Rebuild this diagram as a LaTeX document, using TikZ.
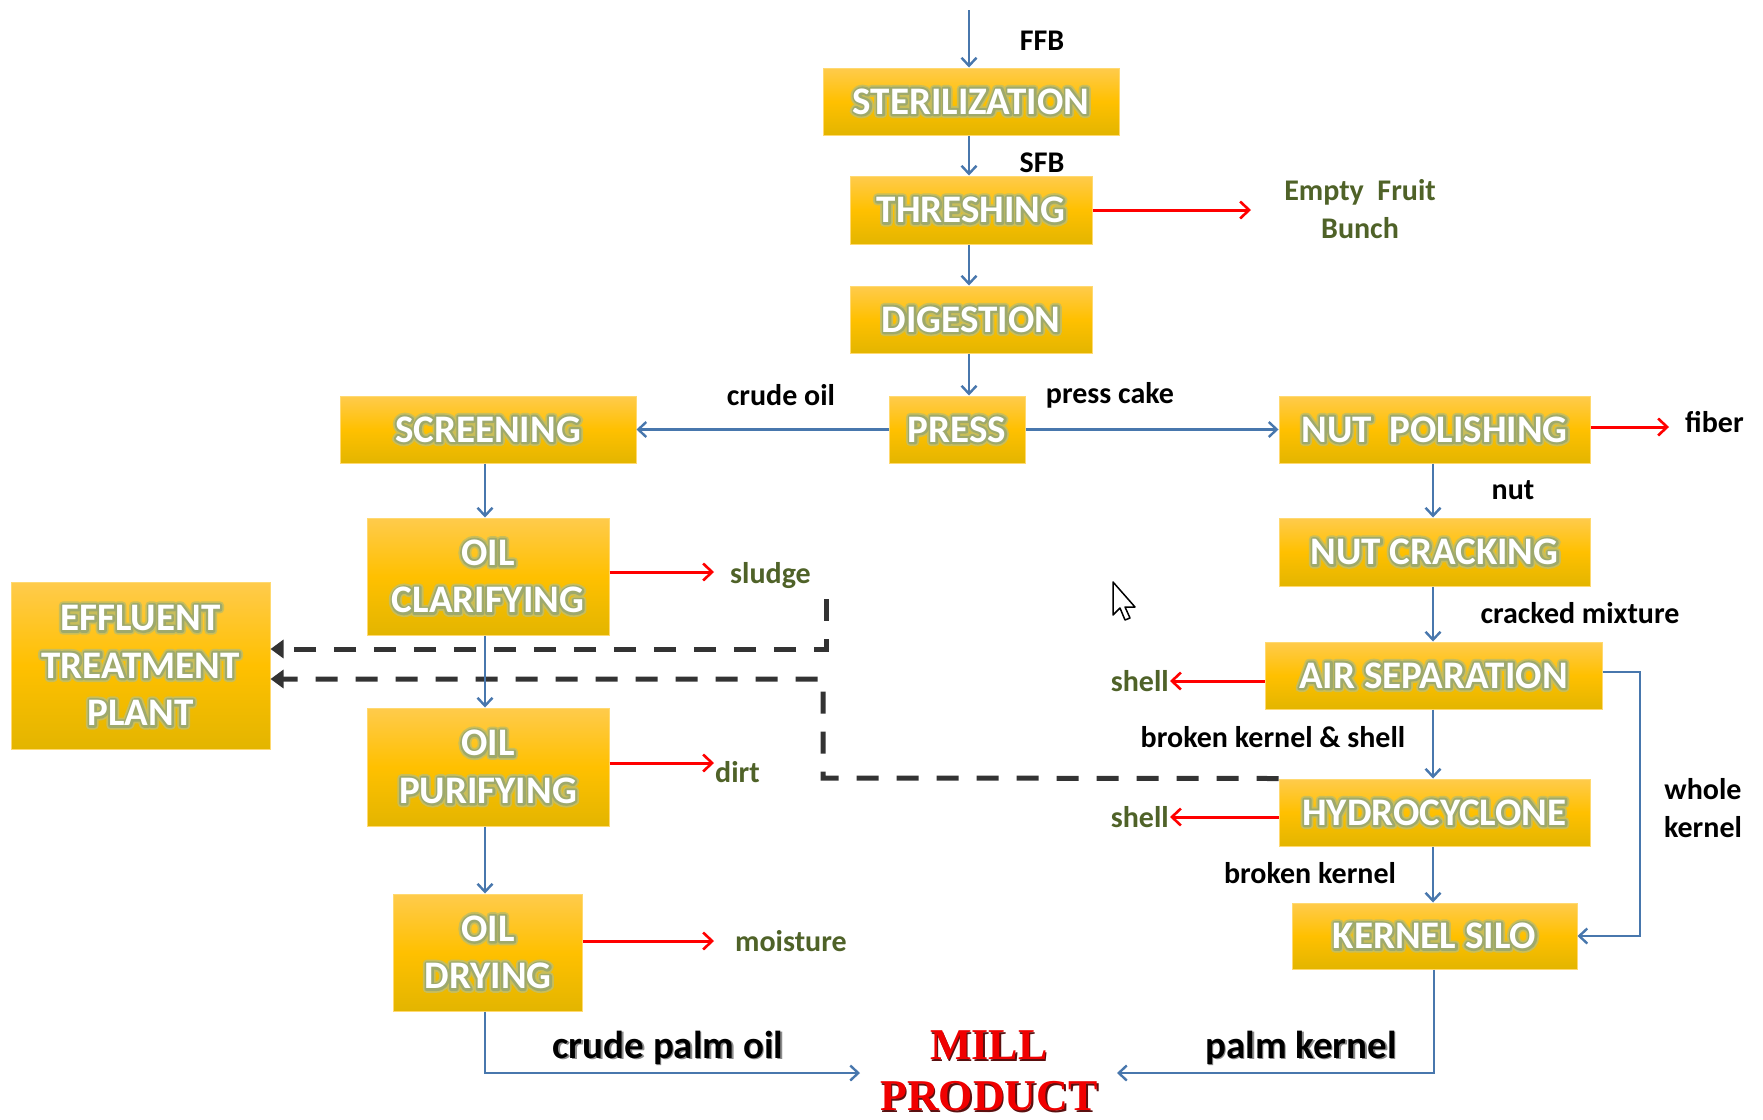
\documentclass[tikz,border=0pt]{standalone}
\usepackage{fontspec}
\setmainfont{Carlito}
\newfontfamily\glowA{Carlito}[UprightFeatures={FakeBold=20},BoldFeatures={FakeBold=20}]
\newfontfamily\glowB{Carlito}[UprightFeatures={FakeBold=11},BoldFeatures={FakeBold=11}]
\newfontfamily\prodfont{Liberation Serif}
\usetikzlibrary{arrows.meta}
\definecolor{boxtop}{HTML}{FFCB4C}
\definecolor{boxmid}{HTML}{FFC000}
\definecolor{boxbot}{HTML}{E3B500}
\definecolor{boxedge}{HTML}{FFD970}
\definecolor{glowin}{HTML}{9EA96C}
\definecolor{glowout}{HTML}{C9BE5A}
\definecolor{flow}{HTML}{4877AD}
\definecolor{waste}{HTML}{FF0000}
\definecolor{wastetxt}{HTML}{4F6228}
\definecolor{dashc}{HTML}{333333}
\definecolor{prodred}{HTML}{F00000}
\definecolor{prodshade}{HTML}{5A1010}
\newcommand\glw[1]{\mbox{\special{pdf:literal direct 1 j 1 J}\rlap{\glowA\textcolor{glowout}{#1}}\rlap{\glowB\textcolor{glowin}{#1}}\textcolor{white}{#1}}}
\newcommand\shd[2]{\mbox{\rlap{\smash{\kern1.6pt\raisebox{-1.6pt}{\textcolor{#1}{#2}}}}#2}}
\begin{document}
\begin{tikzpicture}[x=1pt,y=-1pt,
  box/.style={rectangle, top color=boxtop, bottom color=boxbot, middle color=boxmid,
    draw=boxedge, line width=1pt, inner sep=0pt, align=center,
    font=\fontsize{39}{47.5}\selectfont\bfseries},
  flowarrow/.style={draw=flow, line width=2.6pt, -{Straight Barb[length=8pt,width=15pt,line width=2.4pt]}},
  wastearrow/.style={draw=waste, line width=3pt, -{Straight Barb[length=9pt,width=17pt,line width=2.6pt]}},
  effarrow/.style={draw=dashc, line width=5pt, dash pattern=on 22pt off 18pt, -{Triangle[length=13pt,width=18pt]}},
  lbl/.style={font=\fontsize{30}{38}\selectfont\bfseries, text=black, inner sep=0pt},
  wlbl/.style={lbl, text=wastetxt},
  biglbl/.style={font=\fontsize{39}{46}\selectfont\bfseries, text=black, inner sep=0pt}]
\useasboundingbox (0,0) rectangle (1763,1119);
\fill[white] (0,0) rectangle (1763,1119);

% process boxes
\node[box,minimum width=296pt,minimum height=67pt] (ster) at (971,101.5) {\glw{STERILIZATION}};
\node[box,minimum width=242pt,minimum height=68pt] (thr) at (971,210) {\glw{THRESHING}};
\node[box,minimum width=242pt,minimum height=67pt] (dig) at (971,319.5) {\glw{DIGESTION}};
\node[box,minimum width=136pt,minimum height=67pt] (press) at (957,429.5) {\glw{PRESS}};
\node[box,minimum width=296pt,minimum height=67pt] (scr) at (488,429.5) {\glw{SCREENING}};
\node[box,minimum width=242pt,minimum height=117pt] (clar) at (488,576.5) {\glw{OIL}\\\glw{CLARIFYING}};
\node[box,minimum width=242pt,minimum height=118pt] (pur) at (488,767) {\glw{OIL}\\\glw{PURIFYING}};
\node[box,minimum width=189pt,minimum height=117pt] (dry) at (488,952.5) {\glw{OIL}\\\glw{DRYING}};
\node[box,minimum width=259pt,minimum height=167pt] (etp) at (140.5,665.5) {\glw{EFFLUENT}\\\glw{TREATMENT}\\\glw{PLANT}};
\node[box,minimum width=311pt,minimum height=67pt] (np) at (1434.5,429.5) {\glw{NUT\ \ POLISHING}};
\node[box,minimum width=311pt,minimum height=68pt] (nc) at (1434.5,552) {\glw{NUT CRACKING}};
\node[box,minimum width=337pt,minimum height=67pt] (air) at (1433.5,675.5) {\glw{AIR SEPARATION}};
\node[box,minimum width=311pt,minimum height=67pt] (hyd) at (1434.5,812.5) {\glw{HYDROCYCLONE}};
\node[box,minimum width=285pt,minimum height=66pt] (silo) at (1434.5,936) {\glw{KERNEL SILO}};

% free ends
\coordinate (ffbin) at (969,10);
\coordinate (efbend) at (1251,210);
\coordinate (slend) at (714,572);
\coordinate (dtend) at (714,763);
\coordinate (mend) at (714,941);
\coordinate (fbend) at (1669,427);
\coordinate (sh1end) at (1170,681);
\coordinate (sh2end) at (1170,817);
\coordinate (cpoend) at (860,1073);
\coordinate (pkend) at (1117,1073);
\coordinate (d1a) at (826,599);
\coordinate (d1b) at (826,649);
\coordinate (d2a) at (823,778);
\coordinate (d2b) at (823,679);

% effluent (dashed)
\draw[effarrow] (d1a) -- (d1b) -- (d1b -| etp.east);
\draw[effarrow] (hyd.north west) -- (d2a) -- (d2b) -- (d2b -| etp.east);

% main flow
\draw[flowarrow] (ffbin) -- (ffbin |- ster.north);
\draw[flowarrow] (ster.south -| ffbin) -- (ffbin |- thr.north);
\draw[flowarrow] (thr.south -| ffbin) -- (ffbin |- dig.north);
\draw[flowarrow] (dig.south -| ffbin) -- (ffbin |- press.north);
\draw[flowarrow] (press) -- (scr);
\draw[flowarrow] (press) -- (np);
\draw[flowarrow] (scr.south -| 485,0) -- (clar.north -| 485,0);
\draw[flowarrow] (clar.south -| 485,0) -- (pur.north -| 485,0);
\draw[flowarrow] (pur.south -| 485,0) -- (dry.north -| 485,0);
\draw[flowarrow] (dry.south -| 485,0) |- (cpoend);
\draw[flowarrow] (np.south -| 1433,0) -- (nc.north -| 1433,0);
\draw[flowarrow] (nc.south -| 1433,0) -- (air.north -| 1433,0);
\draw[flowarrow] (air.south -| 1433,0) -- (hyd.north -| 1433,0);
\draw[flowarrow] (hyd.south -| 1433,0) -- (silo.north -| 1433,0);
\draw[flowarrow] (air.east |- 0,672) -- (1640,672) |- (silo.east);
\draw[flowarrow] (silo.south -| 1434,0) |- (pkend);

% waste streams
\draw[wastearrow] (thr.east) -- (efbend);
\draw[wastearrow] (clar.east |- slend) -- (slend);
\draw[wastearrow] (pur.east |- dtend) -- (dtend);
\draw[wastearrow] (dry.east |- mend) -- (mend);
\draw[wastearrow] (np.east |- fbend) -- (fbend);
\draw[wastearrow] (air.west |- sh1end) -- (sh1end);
\draw[wastearrow] (hyd.west |- sh2end) -- (sh2end);

% labels
\node[lbl,anchor=base] (lffb) at (1042,50) {FFB};
\node[lbl,anchor=base] (lsfb) at (1042,172) {SFB};
\node[wlbl,align=center] (lefb) at (1360,209) {Empty\ \ Fruit\\Bunch};
\node[lbl,anchor=base] (lco) at (781,405) {crude oil};
\node[lbl,anchor=base] (lpc) at (1110,403) {press cake};
\node[lbl,anchor=base west] (lfib) at (1685,432) {fiber};
\node[lbl,anchor=base] (lnut) at (1513,499) {nut};
\node[lbl,anchor=base] (lcm) at (1580,623) {cracked mixture};
\node[wlbl,anchor=base east] (lsh1) at (1169,691) {shell};
\node[lbl,anchor=base] (lbks) at (1273,747) {broken kernel \& shell};
\node[wlbl,anchor=base east] (lsh2) at (1169,827) {shell};
\node[lbl,anchor=base] (lbk) at (1310,883) {broken kernel};
\node[lbl,align=center] (lwk) at (1703,808) {whole\\kernel};
\node[wlbl,anchor=base west] (lsl) at (730,583) {sludge};
\node[wlbl,anchor=base west] (ldt) at (715,782) {dirt};
\node[wlbl,anchor=base west] (lmo) at (735,951) {moisture};
\node[biglbl,anchor=base] (lcpo) at (668,1058) {\shd{black!45}{crude palm oil}};
\node[biglbl,anchor=base] (lpk) at (1301,1058) {\shd{black!45}{palm kernel}};
\node[inner sep=0pt,align=center,text=prodred,font=\fontsize{44}{51}\selectfont\prodfont\bfseries] (mp) at (989,1071) {\shd{prodshade}{MILL}\\\shd{prodshade}{PRODUCT}};

% mouse pointer
\draw[fill=white, line width=1.5pt, line join=round] (1113,582) -- ++(0,33) -- ++(7,-7) -- ++(5,12) -- ++(5,-2) -- ++(-5,-11) -- ++(10,0) -- cycle;
\end{tikzpicture}
\end{document}
